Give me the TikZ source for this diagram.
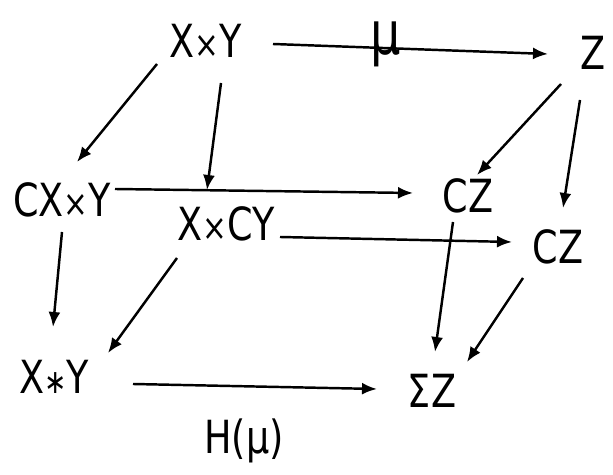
\documentclass[tikz,border=0pt]{standalone}
\usepackage{fontspec}
\setmainfont{DejaVu Sans}[FakeStretch=0.8]
\usetikzlibrary{arrows.meta}
\newcommand{\tms}{{\fontsize{21}{21}\selectfont ×}}
\newcommand{\jn}{{\fontsize{19}{19}\selectfont ∗}}

\begin{document}
\begin{tikzpicture}[x=1cm,y=1cm,
  obj/.style={inner sep=0pt,font=\fontsize{26}{30}\selectfont},
  lbl/.style={inner sep=0pt,font=\fontsize{34}{38}\selectfont},
  arr/.style={line width=1.4pt,-{Latex[length=.3cm,width=.24cm]}}]
\path[use as bounding box] (0,0) rectangle (12.26,9.50);
% back square
\node[obj] (xy) at (4.12,8.68) {X\tms Y};
\node[obj] (z) at (11.86,8.44) {Z};
\node[obj] (cxy) at (1.24,5.50) {CX\tms Y};
\node[obj] (cz) at (9.36,5.58) {CZ};
% front square
\node[obj] (xcy) at (4.52,5.02) {X\tms CY};
\node[obj] (czr) at (11.16,4.56) {CZ};
\node[obj] (join) at (1.08,1.96) {X\jn Y};
\node[obj] (sz) at (8.64,1.68) {ΣZ};
\node[obj] (hmu) at (4.88,0.68) {H(μ)};
% arrows
\draw[arr] ([shift={(1.34,-.06)}]xy.center) -- node[lbl,pos=.41,yshift=.07cm] (mu) {μ} ([shift={(-.90,-.02)}]z.center);
\draw[arr] ([shift={(-.98,-.46)}]xy.center) -- ([shift={(.30,.76)}]cxy.center);
\draw[arr] ([shift={(.30,-.84)}]xy.center) -- ([shift={(-.38,.68)}]xcy.center);
\draw[arr] ([shift={(-.64,-.62)}]z.center) -- ([shift={(.18,.42)}]cz.center);
\draw[arr] ([shift={(-.26,-.94)}]z.center) -- ([shift={(.10,.78)}]czr.center);
\draw[arr] ([shift={(1.06,.22)}]cxy.center) -- ([shift={(-1.10,.06)}]cz.center);
\draw[arr] ([shift={(1.08,-.26)}]xcy.center) -- ([shift={(-.92,.10)}]czr.center);
\draw[arr] ([shift={(0,-.64)}]cxy.center) -- ([shift={(-.02,1.00)}]join.center);
\draw[arr] ([shift={(-.98,-.68)}]xcy.center) -- ([shift={(1.08,.48)}]join.center);
\draw[arr] ([shift={(-.30,-.52)}]cz.center) -- ([shift={(.06,.78)}]sz.center);
\draw[arr] ([shift={(-.70,-.62)}]czr.center) -- ([shift={(.70,.58)}]sz.center);
\draw[arr] ([shift={(1.58,-.14)}]join.center) -- ([shift={(-1.10,.04)}]sz.center);
\end{tikzpicture}
\end{document}
